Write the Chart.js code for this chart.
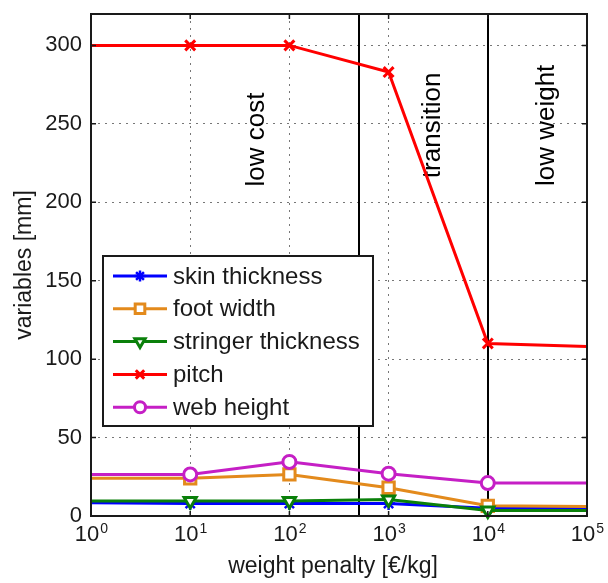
<!DOCTYPE html>
<html>
<head>
<meta charset="utf-8">
<script src="https://cdn.jsdelivr.net/npm/chart.js@4"></script>
<style>
  html, body { margin: 0; padding: 0; background: #fff; }
</style>
</head>
<body>
<canvas id="chart" width="608" height="583"></canvas>
<script>
// data
const penalties = [1, 10, 100, 1000, 10000, 100000];
const skinThickness = [8.5, 8, 8, 8, 5, 5];
const footWidth = [24, 24, 26.5, 18, 6.5, 6];
const stringerThickness = [9.5, 9.5, 9.5, 10.5, 3.5, 3.5];
const pitch = [300, 300, 300, 283, 110, 108];
const webHeight = [26.5, 26.5, 34.5, 27, 21, 21];
const seriesNames = ['skin thickness', 'foot width', 'stringer thickness', 'pitch', 'web height'];
const xTicks = [1, 10, 100, 1000, 10000, 100000];
const yTicks = [0, 50, 100, 150, 200, 250, 300];
const regionBounds = [500, 10000];
const regionNames = ['low cost', 'transition', 'low weight'];

// where the region names sit (data coords)
const regionLabelAt = [{ x: 47, y: 240 }, { x: 2800, y: 249 }, { x: 39500, y: 249 }];

const FONT = '"Liberation Sans", Arial, Helvetica, sans-serif';
const TEXT = '#1a1a1a';

const styles = [
  { color: '#0000ff', pointStyle: 'star', radius: 6.5, rotation: 0, fill: '#0000ff', bw: 2.5 },
  { color: '#e38a1c', pointStyle: 'rect', radius: 8, rotation: 0, fill: '#ffffff', bw: 3 },
  { color: '#0a800a', pointStyle: 'triangle', radius: 7, rotation: 180, fill: '#ffffff', bw: 3 },
  { color: '#ff0000', pointStyle: 'crossRot', radius: 7, rotation: 0, fill: '#ff0000', bw: 3 },
  { color: '#c51fc5', pointStyle: 'circle', radius: 6.5, rotation: 0, fill: '#ffffff', bw: 3 }
];
const seriesValues = [skinThickness, footWidth, stringerThickness, pitch, webHeight];

const datasets = seriesValues.map((vals, i) => {
  const s = styles[i];
  return {
    label: seriesNames[i],
    data: penalties.map((p, j) => ({ x: p, y: vals[j] })),
    borderColor: s.color,
    backgroundColor: s.color,
    borderWidth: 3,
    pointStyle: s.pointStyle,
    pointRotation: s.rotation,
    // no marker on the end points
    pointRadius: penalties.map((p, j) => (j === 0 || j === penalties.length - 1) ? 0 : s.radius),
    pointBorderWidth: s.bw,
    pointBackgroundColor: s.fill,
    pointBorderColor: s.color,
    tension: 0,
    order: seriesNames.length - i,
    clip: false
  };
});

const decor = {
  id: 'decor',
  beforeDatasetsDraw(chart) {
    const { ctx, chartArea: a, scales: { x, y } } = chart;
    ctx.save();
    // region boundaries
    ctx.strokeStyle = '#000';
    ctx.lineWidth = 2;
    regionBounds.forEach(v => {
      const px = Math.round(x.getPixelForValue(v));
      ctx.beginPath();
      ctx.moveTo(px, a.top);
      ctx.lineTo(px, a.bottom);
      ctx.stroke();
    });
    // region names, rotated
    ctx.fillStyle = '#000';
    ctx.font = '26px ' + FONT;
    ctx.textAlign = 'center';
    ctx.textBaseline = 'middle';
    regionNames.forEach((t, i) => {
      const p = regionLabelAt[i];
      ctx.save();
      ctx.translate(x.getPixelForValue(p.x), y.getPixelForValue(p.y));
      ctx.rotate(-Math.PI / 2);
      ctx.fillText(t, 0, 0);
      ctx.restore();
    });
    ctx.restore();
  },
  afterDraw(chart) {
    const { ctx, chartArea: a, scales: { x, y } } = chart;
    ctx.save();

    // axes box
    ctx.strokeStyle = TEXT;
    ctx.lineWidth = 2;
    ctx.strokeRect(a.left, a.top, a.right - a.left, a.bottom - a.top);

    // inward tick marks
    ctx.lineWidth = 1.5;
    ctx.beginPath();
    xTicks.forEach(v => {
      const px = x.getPixelForValue(v);
      ctx.moveTo(px, a.bottom); ctx.lineTo(px, a.bottom - 5);
      ctx.moveTo(px, a.top); ctx.lineTo(px, a.top + 5);
    });
    yTicks.forEach(v => {
      const py = y.getPixelForValue(v);
      ctx.moveTo(a.left, py); ctx.lineTo(a.left + 5, py);
      ctx.moveTo(a.right, py); ctx.lineTo(a.right - 5, py);
    });
    ctx.stroke();

    // x tick labels: 10 with exponent
    ctx.fillStyle = TEXT;
    ctx.textAlign = 'left';
    ctx.textBaseline = 'alphabetic';
    xTicks.forEach(v => {
      const px = x.getPixelForValue(v);
      const e = String(Math.round(Math.log10(v)));
      ctx.font = '22px ' + FONT;
      const w1 = ctx.measureText('10').width;
      ctx.font = '14px ' + FONT;
      const w2 = ctx.measureText(e).width;
      const x0 = px - (w1 + w2) / 2;
      ctx.font = '22px ' + FONT;
      ctx.fillText('10', x0, a.bottom + 25);
      ctx.font = '14px ' + FONT;
      ctx.fillText(e, x0 + w1 + 1, a.bottom + 17);
    });

    // axis titles
    ctx.font = '23px ' + FONT;
    ctx.textAlign = 'center';
    ctx.textBaseline = 'middle';
    ctx.fillText('weight penalty [€/kg]', 333, 567);
    ctx.save();
    ctx.translate(25, 265);
    ctx.rotate(-Math.PI / 2);
    ctx.fillText('variables [mm]', 0, 0);
    ctx.restore();

    // legend
    const box = { left: 103, top: 256, right: 373, bottom: 426 };
    ctx.fillStyle = '#fff';
    ctx.fillRect(box.left, box.top, box.right - box.left, box.bottom - box.top);
    ctx.strokeStyle = TEXT;
    ctx.lineWidth = 2;
    ctx.strokeRect(box.left, box.top, box.right - box.left, box.bottom - box.top);
    ctx.font = '24px ' + FONT;
    ctx.textAlign = 'left';
    seriesNames.forEach((name, i) => {
      const s = styles[i];
      const ry = 276 + i * 32.8;
      ctx.strokeStyle = s.color;
      ctx.lineWidth = 3;
      ctx.beginPath();
      ctx.moveTo(113, ry);
      ctx.lineTo(167, ry);
      ctx.stroke();
      ctx.fillStyle = s.fill;
      ctx.lineWidth = s.bw;
      Chart.helpers.drawPoint(ctx, {
        pointStyle: s.pointStyle, rotation: s.rotation,
        radius: s.radius * 0.85, borderWidth: s.bw
      }, 140, ry);
      ctx.fillStyle = TEXT;
      ctx.fillText(name, 173, ry + 1);
    });

    ctx.restore();
  }
};

new Chart(document.getElementById('chart').getContext('2d'), {
  type: 'line',
  data: { datasets },
  options: {
    responsive: false,
    animation: false,
    devicePixelRatio: 1,
    layout: { padding: { top: 14, right: 21, left: 0, bottom: 0 } },
    plugins: { legend: { display: false }, tooltip: { enabled: false } },
    scales: {
      x: {
        type: 'logarithmic',
        min: 1,
        max: 100000,
        afterBuildTicks: s => { s.ticks = xTicks.map(v => ({ value: v })); },
        afterFit: s => { s.height = 67; s.paddingLeft = 0; s.paddingRight = 0; },
        ticks: { display: false },
        grid: { color: '#777', lineWidth: 1, drawTicks: false },
        border: { display: false, dash: [2, 5] }
      },
      y: {
        min: 0,
        max: 320,
        afterBuildTicks: s => { s.ticks = yTicks.map(v => ({ value: v })); },
        afterFit: s => { s.width = 91; s.paddingTop = 0; s.paddingBottom = 0; },
        ticks: { padding: 9, color: TEXT, font: { family: FONT, size: 22 } },
        grid: { color: '#777', lineWidth: 1, drawTicks: false },
        border: { display: false, dash: [2, 5] }
      }
    }
  },
  plugins: [decor]
});
</script>
</body>
</html>
